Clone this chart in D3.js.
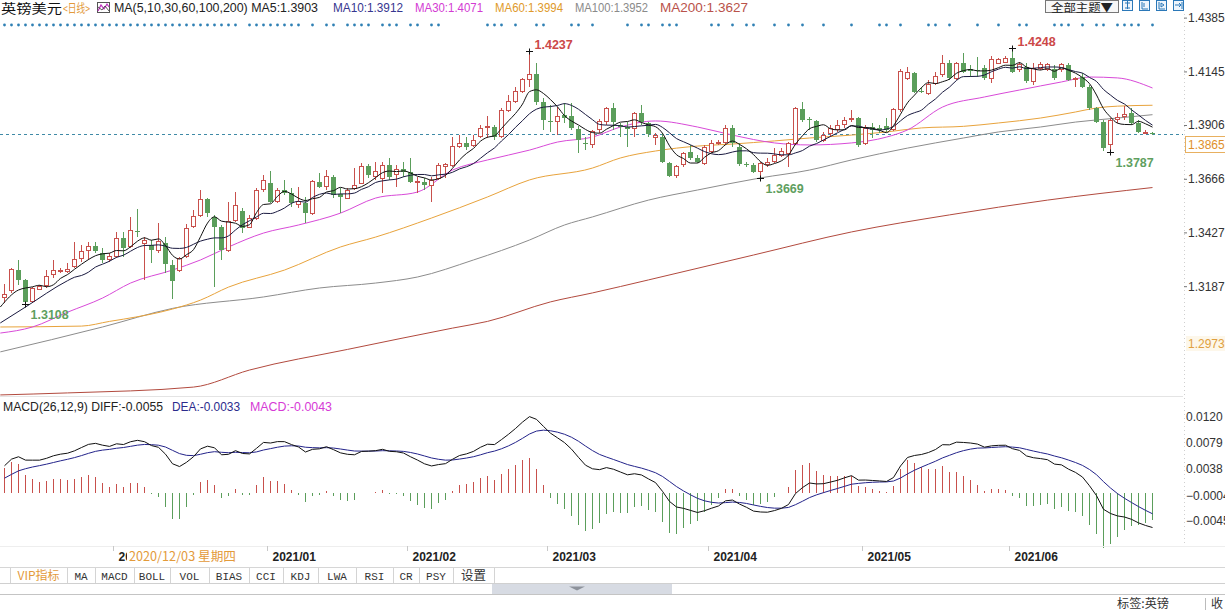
<!DOCTYPE html>
<html><head><meta charset="utf-8">
<script src="https://cdn.jsdelivr.net/npm/d3@7/dist/d3.min.js"></script>
<style>
html,body{margin:0;padding:0;background:#fff;overflow:hidden}
svg{display:block}
.lat{font-family:"Liberation Sans",Arial,sans-serif}
.cjk{font-family:"Noto Sans CJK SC","Liberation Sans",sans-serif}
.mono{font-family:"Liberation Mono","DejaVu Sans Mono",monospace}
</style></head><body>
<svg id="c" width="1225" height="610"></svg>
<script>
// ---------------- DATA ----------------
const opens=[1.3136,1.3170,1.3259,1.3214,1.3118,1.3173,1.3188,1.3237,1.3255,1.3251,
1.3274,1.3311,1.3345,1.3366,1.3333,1.3304,1.3319,1.3403,1.3363,1.3434,
1.3378,1.3371,1.3348,1.3381,1.3281,1.3256,1.3319,1.3452,1.3504,1.3574,
1.3494,1.3449,1.3348,1.3482,1.3524,1.3449,1.3490,1.3619,1.3649,1.3564,
1.3616,1.3601,1.3553,1.3556,1.3512,1.3653,1.3631,1.3675,1.3598,1.3579,
1.3623,1.3646,1.3723,1.3675,1.3668,1.3727,1.3683,1.3708,1.3698,1.3649,
1.3653,1.3638,1.3668,1.3720,1.3727,1.3809,1.3824,1.3816,1.3854,1.3895,
1.3895,1.3854,1.3970,1.4010,1.4055,1.4107,1.4132,1.4010,1.3924,1.3921,
1.3950,1.3946,1.3887,1.3824,1.3817,1.3884,1.3921,1.3980,1.3906,1.3899,
1.3891,1.3958,1.3914,1.3851,1.3854,1.3738,1.3679,1.3728,1.3787,1.3757,
1.3735,1.3787,1.3824,1.3827,1.3891,1.3809,1.3731,1.3728,1.3698,1.3732,
1.3743,1.3772,1.3780,1.3824,1.3976,1.3931,1.3926,1.3839,1.3869,1.3888,
1.3906,1.3931,1.3936,1.3824,1.3899,1.3891,1.3902,1.3887,1.3973,1.4114,
1.4137,1.4058,1.4047,1.4092,1.4129,1.4181,1.4114,1.4181,1.4155,1.4152,
1.4159,1.4114,1.4181,1.4184,1.4207,1.4152,1.4166,1.4100,1.4159,1.4155,
1.4155,1.4155,1.4174,1.4110,1.4122,1.4077,1.3980,1.3921,1.3817,1.3931,
1.3943,1.3958,1.3917,1.3869,1.3872];
const highs=[1.3199,1.3266,1.3304,1.3217,1.3185,1.3192,1.3259,1.3304,1.3266,1.3289,
1.3385,1.3371,1.3385,1.3385,1.3356,1.3333,1.3430,1.3430,1.3497,1.3530,
1.3408,1.3393,1.3470,1.3408,1.3304,1.3319,1.3464,1.3527,1.3616,1.3579,
1.3504,1.3460,1.3564,1.3608,1.3534,1.3504,1.3623,1.3683,1.3701,1.3623,
1.3660,1.3623,1.3631,1.3586,1.3660,1.3690,1.3705,1.3683,1.3623,1.3623,
1.3712,1.3735,1.3732,1.3742,1.3742,1.3757,1.3727,1.3742,1.3757,1.3675,
1.3668,1.3675,1.3735,1.3735,1.3854,1.3861,1.3854,1.3861,1.3906,1.3946,
1.3906,1.3980,1.4040,1.4077,1.4114,1.4237,1.4181,1.4025,1.3995,1.3988,
1.4003,1.4003,1.3902,1.3854,1.3884,1.3931,1.3988,1.4003,1.3913,1.3921,
1.3966,1.3995,1.3921,1.3869,1.3869,1.3743,1.3728,1.3787,1.3817,1.3772,
1.3817,1.3839,1.3839,1.3906,1.3906,1.3824,1.3743,1.3735,1.3743,1.3757,
1.3802,1.3802,1.3832,1.3988,1.4010,1.3943,1.3928,1.3876,1.3906,1.3928,
1.3943,1.3973,1.3940,1.3906,1.3914,1.3906,1.3936,1.3980,1.4155,1.4163,
1.4144,1.4077,1.4107,1.4144,1.4218,1.4196,1.4189,1.4229,1.4174,1.4211,
1.4174,1.4214,1.4204,1.4214,1.4248,1.4189,1.4181,1.4181,1.4189,1.4181,
1.4174,1.4181,1.4181,1.4122,1.4137,1.4085,1.3988,1.3928,1.3936,1.3958,
1.3991,1.3980,1.3928,1.3884,1.3876];
const lows=[1.3111,1.3155,1.3192,1.3108,1.3110,1.3170,1.3177,1.3222,1.3244,1.3244,
1.3266,1.3296,1.3304,1.3333,1.3289,1.3296,1.3311,1.3319,1.3356,1.3408,
1.3214,1.3289,1.3333,1.3244,1.3128,1.3252,1.3311,1.3445,1.3497,1.3497,
1.3182,1.3304,1.3341,1.3475,1.3423,1.3445,1.3482,1.3608,1.3556,1.3556,
1.3594,1.3542,1.3534,1.3467,1.3504,1.3623,1.3616,1.3579,1.3512,1.3574,
1.3616,1.3643,1.3668,1.3660,1.3601,1.3660,1.3631,1.3675,1.3646,1.3601,
1.3616,1.3564,1.3660,1.3668,1.3720,1.3802,1.3794,1.3809,1.3846,1.3846,
1.3839,1.3846,1.3965,1.4003,1.4047,1.4077,1.3995,1.3884,1.3876,1.3861,
1.3913,1.3884,1.3780,1.3794,1.3802,1.3869,1.3906,1.3884,1.3854,1.3809,
1.3854,1.3906,1.3854,1.3817,1.3738,1.3673,1.3668,1.3720,1.3750,1.3735,
1.3728,1.3780,1.3817,1.3817,1.3809,1.3723,1.3717,1.3691,1.3669,1.3720,
1.3735,1.3765,1.3720,1.3817,1.3921,1.3884,1.3832,1.3832,1.3854,1.3876,
1.3891,1.3921,1.3809,1.3817,1.3847,1.3869,1.3876,1.3881,1.3966,1.4107,
1.4047,1.4047,1.4040,1.4085,1.4122,1.4107,1.4107,1.4137,1.4122,1.4122,
1.4107,1.4092,1.4178,1.4181,1.4140,1.4144,1.4092,1.4085,1.4152,1.4149,
1.4107,1.4144,1.4100,1.4077,1.4070,1.3973,1.3914,1.3792,1.3787,1.3914,
1.3928,1.3906,1.3869,1.3866,1.3861];
const closes=[1.3150,1.3262,1.3214,1.3118,1.3177,1.3185,1.3229,1.3259,1.3259,1.3262,
1.3304,1.3341,1.3363,1.3345,1.3304,1.3319,1.3400,1.3356,1.3434,1.3430,
1.3393,1.3348,1.3385,1.3286,1.3211,1.3311,1.3445,1.3497,1.3574,1.3515,
1.3452,1.3348,1.3475,1.3549,1.3445,1.3490,1.3616,1.3657,1.3564,1.3613,
1.3601,1.3556,1.3564,1.3512,1.3653,1.3631,1.3675,1.3594,1.3586,1.3616,
1.3638,1.3720,1.3683,1.3698,1.3727,1.3675,1.3708,1.3698,1.3653,1.3653,
1.3638,1.3660,1.3727,1.3730,1.3809,1.3824,1.3806,1.3839,1.3891,1.3898,
1.3854,1.3970,1.4010,1.4055,1.4107,1.4132,1.4010,1.3928,1.3919,1.3946,
1.3935,1.3891,1.3839,1.3820,1.3876,1.3921,1.3980,1.3921,1.3896,1.3890,
1.3958,1.3921,1.3866,1.3857,1.3743,1.3679,1.3723,1.3780,1.3757,1.3743,
1.3806,1.3824,1.3827,1.3891,1.3824,1.3731,1.3726,1.3698,1.3735,1.3740,
1.3772,1.3787,1.3824,1.3980,1.3928,1.3927,1.3839,1.3861,1.3891,1.3903,
1.3928,1.3936,1.3817,1.3891,1.3884,1.3884,1.3884,1.3973,1.4144,1.4140,
1.4055,1.4052,1.4085,1.4122,1.4181,1.4114,1.4181,1.4144,1.4149,1.4148,
1.4114,1.4199,1.4199,1.4204,1.4144,1.4174,1.4100,1.4159,1.4178,1.4177,
1.4114,1.4174,1.4107,1.4114,1.4077,1.3980,1.3921,1.3802,1.3928,1.3940,
1.3951,1.3917,1.3876,1.3873,1.3865];

// moving averages (long periods need history not shown): [candle index, value]
const ma5Lead=[[-0.6,1.3094],[2,1.3170]];
const ma10Lead=[[-0.6,1.3023],[3,1.3094]];
const ma30Pts=[[-0.6,1.2978],[4,1.3005],[9,1.3071],[14,1.3134],[18,1.3201],[24,1.3259],[28,1.3304],[32,1.3362],[37,1.3424],[42,1.3460],[48,1.3513],[53,1.3580],[59,1.3607],[64,1.3705],[69,1.3750],[75,1.3794],[79,1.3830],[84,1.3852],[88,1.3897],[93,1.3924],[99,1.3897],[104,1.3861],[110,1.3826],[115,1.3817],[121,1.3826],[126,1.3852],[129,1.3884],[134,1.3986],[140,1.4031],[145,1.4062],[151,1.4098],[155,1.4120],[159,1.4116],[164,1.4071]];
const ma60Pts=[[-0.6,1.3005],[11,1.3009],[15,1.3030],[17,1.3040],[24,1.3085],[28,1.3125],[32,1.3183],[40,1.3259],[48,1.3362],[53,1.3406],[61,1.3491],[69,1.3585],[75,1.3661],[84,1.3714],[88,1.3759],[93,1.3790],[99,1.3812],[104,1.3821],[110,1.3835],[115,1.3848],[121,1.3861],[126,1.3875],[131,1.3893],[137,1.3900],[142,1.3915],[148,1.3937],[153,1.3964],[156,1.3982],[159,1.3990],[164,1.3994]];
const ma100Pts=[[-0.6,1.2894],[14,1.3005],[24,1.3088],[37,1.3139],[45,1.3179],[53,1.3201],[59,1.3228],[67,1.3304],[75,1.3393],[80,1.3460],[84,1.3496],[92,1.3571],[99,1.3616],[108,1.3670],[115,1.3705],[121,1.3750],[129,1.3803],[137,1.3848],[142,1.3875],[148,1.3897],[153,1.3919],[159,1.3937],[164,1.3952]];
const ma200Pts=[[-0.6,1.2702],[9,1.2711],[27,1.2737],[35,1.2813],[49,1.2905],[64,1.3000],[69,1.3030],[78,1.3117],[84,1.3157],[92,1.3215],[107,1.3326],[121,1.3429],[135,1.3505],[149,1.3571],[164,1.3627]];

// MACD(26,12,9) starting state (read from the left edge of the indicator panel)
const macdSeed={ema12:1.3080, ema26:1.3040, dea:0.0018};

const priceTicks=[1.4385,1.4145,1.3906,1.3666,1.3427,1.3187];
const macdTicks=[0.0120,0.0079,0.0038,-0.0004,-0.0045];
const monthIdx=[16,38,58,78,101,123,144];
const monthLabels=["2020/12","2021/01","2021/02","2021/03","2021/04","2021/05","2021/06"];
const signalDots=[0,1,2,3,4,5,6,7,8,9,10,11,12,13,14,15,16,17,18,19,20,21,22,23,24,25,26,27,28,29,30,31,32,33,
35,36,37,38,39,40,41,42,44,46,47,49,50,51,52,54,55,56,58,59,61,62,69,70,71,73,76,77,81,82,84,89,91,92,94,95,96,
101,102,104,106,107,110,112,114,117,121,125,126,128,132,133,135,139,142,145,146,150,151,152,154,156,157,159,160,161,162,164];
const extremes=[{i:75,v:1.4237,kind:"hi"},{i:144,v:1.4248,kind:"hi"},{i:3,v:1.3108,kind:"lo"},{i:108,v:1.3669,kind:"lo"},{i:158,v:1.3787,kind:"lo"}];
const headerMA=[["MA(5,10,30,60,100,200) MA5:1.3903","#222",114,204],["MA10:1.3912","#36368f",333,70],["MA30:1.4071","#d33bd3",415,68],["MA60:1.3994","#e09a2a",495,68],["MA100:1.3952","#8a8a8a",575,73],["MA200:1.3627","#b9524a",660,88]];
const macdHeader=[["MACD(26,12,9) DIFF:-0.0055","#222",3,160],["DEA:-0.0033","#2b2b8c",172,68],["MACD:-0.0043","#d63ad6",250,82]];
const tabs=["VIP指标","MA","MACD","BOLL","VOL","BIAS","CCI","KDJ","LWA","RSI","CR","PSY","设置"];
const lastPrice=1.3865, lowLabel="1.2973";

// ---------------- DRAW ----------------
const RED="#c8504c", GREEN="#5b9e5b";
const svg=d3.select("#c");
svg.append("rect").attr("width",1225).attr("height",610).attr("fill","#fff");
const x=d3.scaleLinear().domain([0,164]).range([4.5,1152.5]);
const y=d3.scaleLinear().domain([1.27017,1.44635]).range([395,0]);
const ym=d3.scaleLinear().domain([-0.0045,0.0120]).range([521,417]);
const defs=svg.append("defs");
defs.append("clipPath").attr("id","cm").append("rect").attr("x",0).attr("y",12).attr("width",1183).attr("height",384);
defs.append("clipPath").attr("id","cd").append("rect").attr("x",0).attr("y",398).attr("width",1183).attr("height",160);
defs.append("clipPath").attr("id","cdecl").append("rect").attr("x",-20).attr("y",-10).attr("width",34).attr("height",30);

function txt(g,xx,yy,s,cls,size,color,len){const t=g.append("text").attr("x",xx).attr("y",yy).attr("class",cls).attr("font-size",size).attr("fill",color).text(s);if(len){t.attr("textLength",len).attr("lengthAdjust","spacingAndGlyphs");}return t;}

// header
txt(svg,1,13,"英镑美元","cjk",13,"#111",61);
txt(svg,63,12.5,"<日线>","cjk",12,"#e39a3a",27);
const ic=svg.append("g");
ic.append("rect").attr("x",97.5).attr("y",2.5).attr("width",12).attr("height",10).attr("fill","#fff").attr("stroke","#555");
ic.append("polyline").attr("points","98,11 101,5 104,9 107,4 109,7").attr("fill","none").attr("stroke","#c030c0").attr("stroke-width",1.2);
ic.append("polyline").attr("points","98,7 102,10 105,6 109,11").attr("fill","none").attr("stroke","#333").attr("stroke-width",0.8);
headerMA.forEach(h=>txt(svg,h[2],12,h[0],"lat",12.5,h[1],h[3]));
svg.append("rect").attr("x",1045.5).attr("y",0.5).attr("width",73).attr("height",12).attr("fill","#f7f7f7").attr("stroke","#777");
txt(svg,1051,11.5,"全部主题▼","cjk",11.5,"#222",62);
[1122,1139,1156,1173].forEach((bx,k)=>{
  svg.append("rect").attr("x",bx+0.5).attr("y",0.5).attr("width",10).attr("height",10).attr("fill","#eef5fc").attr("stroke","#2b78b8");
  const p=["M"+(bx+3)+",3h5M"+(bx+5.5)+",1v8M"+(bx+3)+",8h5","M"+(bx+3)+",2v7h6M"+(bx+5)+",3v4","M"+(bx+3)+",2v7h6M"+(bx+5)+",3l3,2l-3,2z","M"+(bx+2)+",5h6M"+(bx+6)+",3l2,2l-2,2M"+(bx+9)+",2v7"][k];
  svg.append("path").attr("d",p).attr("fill","none").attr("stroke","#2b78b8").attr("stroke-width",1);
});

// signal dots
svg.append("g").selectAll("circle").data(signalDots).join("circle")
 .attr("cx",i=>x(i)).attr("cy",25).attr("r",1.4).attr("fill","#2f80b4");

svg.append("line").attr("x1",1184.5).attr("x2",1184.5).attr("y1",14).attr("y2",546).attr("stroke","#cfcfcf").attr("stroke-dasharray","1,3");

// main panel
const gm=svg.append("g").attr("clip-path","url(#cm)");
const idx=d3.range(closes.length);
const up=i=>closes[i]>=opens[i];
const lineGen=d3.line().x(d=>x(d[0])).y(d=>y(d[1])).curve(d3.curveMonotoneX);
function sma(n){const o=[];for(let i=n-1;i<closes.length;i++){o.push([i,d3.mean(closes.slice(i-n+1,i+1))]);}return o;}
const maSeries=[[ma200Pts,"#b24a3e"],[ma100Pts,"#8c8c8c"],[ma60Pts,"#e8a33c"],[ma30Pts,"#d84ad8"],[ma10Lead.concat(sma(10)),"#1a1a40"],[ma5Lead.concat(sma(5)),"#111"]];
gm.append("line").attr("x1",0).attr("x2",1183).attr("y1",Math.round(y(lastPrice))+0.5).attr("y2",Math.round(y(lastPrice))+0.5)
 .attr("stroke","#3f8aa6").attr("stroke-dasharray","3,3");
maSeries.slice(0,4).forEach(s=>gm.append("path").datum(s[0]).attr("d",lineGen).attr("fill","none").attr("stroke",s[1]).attr("stroke-width",1));
const gc=gm.append("g").attr("shape-rendering","crispEdges");
gc.selectAll("line").data(idx).join("line")
 .attr("x1",i=>x(i)).attr("x2",i=>x(i)).attr("y1",i=>y(highs[i])).attr("y2",i=>y(lows[i]))
 .attr("stroke",i=>up(i)?RED:GREEN);
gc.selectAll("rect").data(idx).join("rect")
 .attr("x",i=>up(i)?x(i)-2:x(i)-2.5)
 .attr("width",i=>up(i)?4:5)
 .attr("y",i=>y(Math.max(opens[i],closes[i])))
 .attr("height",i=>Math.max(1,Math.abs(y(opens[i])-y(closes[i]))))
 .attr("fill",i=>up(i)?"#fff":GREEN)
 .attr("stroke",i=>up(i)?RED:"none");
maSeries.slice(4).forEach(s=>gm.append("path").datum(s[0]).attr("d",lineGen).attr("fill","none").attr("stroke",s[1]).attr("stroke-width",1));
extremes.forEach(e=>{
  const mx=x(e.i), my=Math.round(y(e.v))+0.5;
  gm.append("line").attr("x1",mx-3.5).attr("x2",mx+3.5).attr("y1",my).attr("y2",my).attr("stroke","#111");
  gm.append("line").attr("x1",mx).attr("x2",mx).attr("y1",my-3).attr("y2",my+3).attr("stroke","#111");
  txt(gm,mx+5,e.kind==="hi"?my-3:my+14,e.v.toFixed(4),"lat",12.5,e.kind==="hi"?"#cc4848":"#5f9f5f").attr("font-weight","bold");
});

// price axis
const ga=svg.append("g").attr("transform","translate(1184,0)").attr("color","#777")
 .call(d3.axisRight(y).tickValues(priceTicks).tickSize(3).tickPadding(1).tickFormat(d3.format(".4f")));
ga.select(".domain").remove();
ga.selectAll("text").attr("class","lat").attr("font-size",12).attr("fill","#333");
const ly=Math.round(y(lastPrice));
svg.append("rect").attr("x",1185.5).attr("y",ly+2.5).attr("width",40).attr("height",16).attr("fill","#fff").attr("stroke","#e8b060");
txt(svg,1188,ly+15,lastPrice.toFixed(4),"lat",12,"#e0902a");
svg.append("rect").attr("x",1186).attr("y",336).attr("width",39).attr("height",15).attr("fill","#fdf7ea");
txt(svg,1188,348,lowLabel,"lat",12,"#e0a040");

svg.append("line").attr("x1",0).attr("x2",1183).attr("y1",396.5).attr("y2",396.5).attr("stroke","#e4e4e4");

// MACD
macdHeader.forEach(h=>txt(svg,h[2],411,h[0],"lat",12.5,h[1],h[3]));
let e12=macdSeed.ema12,e26=macdSeed.ema26,dea=macdSeed.dea;
const diffs=[],deas=[],hist=[];
closes.forEach(c=>{e12+=(2/13)*(c-e12);e26+=(2/27)*(c-e26);const d=e12-e26;dea+=0.2*(d-dea);diffs.push(d);deas.push(dea);hist.push(2*(d-dea));});
const gd=svg.append("g").attr("clip-path","url(#cd)");
gd.append("g").attr("shape-rendering","crispEdges").selectAll("line").data(idx).join("line")
 .attr("x1",i=>x(i)).attr("x2",i=>x(i)).attr("y1",ym(0)).attr("y2",i=>ym(hist[i]))
 .attr("stroke",i=>hist[i]>=0?RED:GREEN);
const ml=d3.line().x((d,i)=>x(i)).y(d=>ym(d));
gd.append("path").datum(deas).attr("d",ml).attr("fill","none").attr("stroke","#23238a");
gd.append("path").datum(diffs).attr("d",ml).attr("fill","none").attr("stroke","#111");
const gma=svg.append("g").attr("transform","translate(1184,0)").attr("color","#777")
 .call(d3.axisRight(ym).tickValues(macdTicks).tickSize(0).tickPadding(2).tickFormat(d3.format(".4f")));
gma.select(".domain").remove();
gma.selectAll("text").attr("class","lat").attr("font-size",12).attr("fill","#333");

// time axis
svg.append("line").attr("x1",0).attr("x2",1225).attr("y1",546.5).attr("y2",546.5).attr("stroke","#eeeeee");
const xt=d3.scaleLinear().domain(x.domain()).range(x.range().map(v=>v-3.5));
const gx=svg.append("g").attr("transform","translate(0,546)").attr("color","#c8c8c8")
 .call(d3.axisBottom(xt).tickValues(monthIdx).tickSize(5).tickFormat((d,k)=>monthLabels[k]));
gx.select(".domain").remove();
gx.selectAll("text").attr("class","lat").attr("font-size",12).attr("font-weight","bold").attr("fill","#222")
 .attr("text-anchor","start").attr("x",5).attr("y",15).attr("dy",null);
// first month label sits behind the crosshair date tag: only its visible part is drawn
gx.selectAll(".tick").filter((d,k)=>k===0).select("text").attr("clip-path","url(#cdecl)");
svg.append("rect").attr("x",127).attr("y",547).attr("width",111).attr("height",18).attr("fill","#fff");
txt(svg,129,561,"2020/12/03 星期四","cjk",12.5,"#e39a3a",107);

// tab bar
svg.append("line").attr("x1",0).attr("x2",1225).attr("y1",567.5).attr("y2",567.5).attr("stroke","#d6d6d6");
svg.append("line").attr("x1",0).attr("x2",1225).attr("y1",583.5).attr("y2",583.5).attr("stroke","#d0d0d0");
const seps=[10,67,95,134,170,209,249,283,318,356,393,419,453,494];
seps.forEach(s=>svg.append("line").attr("x1",s+0.5).attr("x2",s+0.5).attr("y1",568).attr("y2",583).attr("stroke","#d4d4d4"));
tabs.forEach((t,k)=>{
  const cx=(seps[k]+seps[k+1])/2;
  const tt=svg.append("text").attr("x",cx).attr("y",580).attr("text-anchor","middle").attr("font-size",k===12?12.5:11)
   .attr("class",k===12?"cjk":"mono").attr("fill",k===0?"#e39a3a":"#333").text(t);
  if(k===0) tt.attr("class","cjk").attr("font-size",12).attr("textLength",42).attr("lengthAdjust","spacingAndGlyphs");
});
svg.append("rect").attr("x",492).attr("y",584).attr("width",180).attr("height",10).attr("fill","#d7dbe3");
svg.append("path").attr("d","M569,586.5h16l-8,4z").attr("fill","#8d929b");
svg.append("line").attr("x1",0).attr("x2",1225).attr("y1",594.5).attr("y2",594.5).attr("stroke","#c4c4c4");
txt(svg,1117,608,"标签:英镑","cjk",12,"#333",52);
svg.append("line").attr("x1",1205.5).attr("x2",1205.5).attr("y1",598).attr("y2",610).attr("stroke","#bbb");
txt(svg,1211,608,"收","cjk",12,"#333");
</script></body></html>
